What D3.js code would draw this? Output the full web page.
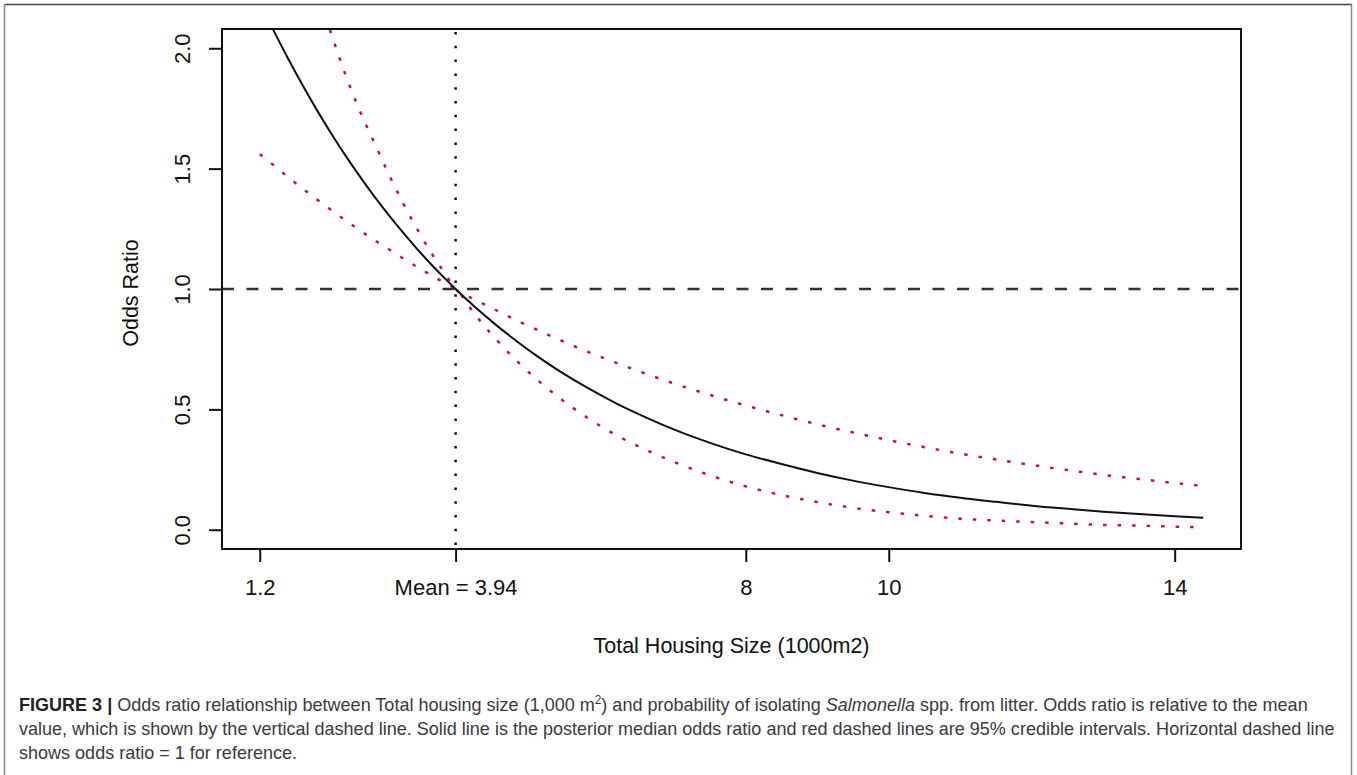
<!DOCTYPE html>
<html>
<head>
<meta charset="utf-8">
<script src="https://cdn.jsdelivr.net/npm/d3@7"></script>
<style>
    body { margin: 0; background: #fff; }
    svg text { font-family: "Liberation Sans", Arial, Helvetica, sans-serif; }
</style>
</head>
<body>
<div id="chart"></div>
<script>
const housingSize = [1.2, 1.4, 1.6, 1.8, 2.0, 2.2, 2.4, 2.6, 2.8, 3.0, 3.2, 3.4, 3.6, 3.8, 3.94,
    4.2, 4.5, 4.8, 5.1, 5.4, 5.8, 6.2, 6.6, 7.0, 7.5, 8.0, 8.5, 9.0, 9.5, 10.0,
    10.5, 11.0, 11.5, 12.0, 12.5, 13.0, 13.5, 14.0, 14.4];
// Posterior median odds ratio
const oddsMedian = [2.19, 2.07, 1.955, 1.846, 1.743, 1.646, 1.554, 1.468, 1.386, 1.309, 1.236, 1.167, 1.102, 1.041, 1.0,
    0.928, 0.852, 0.782, 0.717, 0.658, 0.587, 0.523, 0.467, 0.416, 0.361, 0.313, 0.273, 0.236, 0.204, 0.177,
    0.153, 0.133, 0.116, 0.1, 0.087, 0.075, 0.065, 0.056, 0.05];
// Upper 95% credible interval
const oddsUpper = [3.12, 2.87, 2.64, 2.43, 2.24, 2.06, 1.89, 1.74, 1.61, 1.48, 1.36, 1.25, 1.15, 1.06, 1.0,
    0.958, 0.913, 0.869, 0.828, 0.788, 0.738, 0.692, 0.648, 0.607, 0.56, 0.516, 0.476, 0.438, 0.404, 0.372,
    0.343, 0.316, 0.292, 0.269, 0.248, 0.228, 0.211, 0.194, 0.182];
// Lower 95% credible interval
const oddsLower = [1.56, 1.513, 1.464, 1.417, 1.372, 1.328, 1.285, 1.244, 1.204, 1.166, 1.128, 1.092, 1.057, 1.023, 1.0,
    0.898, 0.793, 0.7, 0.618, 0.546, 0.462, 0.391, 0.332, 0.281, 0.226, 0.18, 0.144, 0.115, 0.091, 0.073,
    0.058, 0.046, 0.038, 0.032, 0.026, 0.02, 0.017, 0.013, 0.01];

// Mean housing size and reference odds ratio
const meanSize = 3.94;
const referenceOdds = 1;

// Tick values and labels
const xTickValues = [1.2, 3.94, 8, 10, 14];
const xTickLabels = ['1.2', 'Mean = 3.94', '8', '10', '14'];
const yTickValues = [0, 0.5, 1, 1.5, 2];
const yTickLabels = ['0.0', '0.5', '1.0', '1.5', '2.0'];

// Total size of the figure
const totalWidth = 1357;
const totalHeight = 775;

// Margins round the plot box
const margin = { top: 29, right: 116, bottom: 226, left: 222 };
const graphWidth = totalWidth - margin.left - margin.right;
const graphHeight = totalHeight - margin.top - margin.bottom;

const svg = d3
    .select('#chart')
    .append('svg')
    .attr('width', totalWidth)
    .attr('height', totalHeight);

// Frame round the figure panel
svg.append('line')
    .attr('x1', 4).attr('x2', 1352).attr('y1', 4.5).attr('y2', 4.5)
    .attr('stroke', '#444').attr('stroke-width', 1.5);
svg.append('line')
    .attr('x1', 4.5).attr('x2', 4.5).attr('y1', 4).attr('y2', totalHeight)
    .attr('stroke', '#888').attr('stroke-width', 1.5);
svg.append('line')
    .attr('x1', 1351.5).attr('x2', 1351.5).attr('y1', 4).attr('y2', totalHeight)
    .attr('stroke', '#888').attr('stroke-width', 1.5);

const graph = svg
    .append('g')
    .attr('transform', `translate(${margin.left}, ${margin.top})`);

// R style 4% padding on both scales
const xPad = (d3.max(housingSize) - d3.min(housingSize)) * 0.04;
const x = d3
    .scaleLinear()
    .domain([d3.min(housingSize) - xPad, d3.max(housingSize) + xPad])
    .range([0, graphWidth]);

const y = d3
    .scaleLinear()
    .domain([0 - 0.08, 2 + 0.08])
    .range([graphHeight, 0]);

// Clip the curves to the plot box
graph.append('clipPath')
    .attr('id', 'plot-clip')
    .append('rect')
    .attr('width', graphWidth)
    .attr('height', graphHeight);

const plotArea = graph.append('g').attr('clip-path', 'url(#plot-clip)');

// Reference lines
plotArea.append('line')
    .attr('x1', 0).attr('x2', graphWidth)
    .attr('y1', y(referenceOdds)).attr('y2', y(referenceOdds))
    .attr('stroke', '#333')
    .attr('stroke-width', 2.5)
    .attr('stroke-dasharray', '12,12.5');

plotArea.append('line')
    .attr('x1', x(meanSize)).attr('x2', x(meanSize))
    .attr('y1', 0).attr('y2', graphHeight)
    .attr('stroke', '#111')
    .attr('stroke-width', 2.5)
    .attr('stroke-dasharray', '2.5,11.3')
    .attr('stroke-dashoffset', -3);

// Line generator for a series
const lineFor = (values) => d3
    .line()
    .x((d, i) => x(housingSize[i]))
    .y((d) => y(d))
    .curve(d3.curveMonotoneX)(values);

// Credible intervals (red dotted)
[oddsUpper, oddsLower].forEach((series) => {
    plotArea.append('path')
        .attr('d', lineFor(series))
        .attr('fill', 'none')
        .attr('stroke', '#c8143c')
        .attr('stroke-width', 2.5)
        .attr('stroke-dasharray', '3.5,11');
});

// Posterior median (solid black)
plotArea.append('path')
    .attr('d', lineFor(oddsMedian))
    .attr('fill', 'none')
    .attr('stroke', '#111')
    .attr('stroke-width', 2);

// Plot box
graph.append('rect')
    .attr('width', graphWidth)
    .attr('height', graphHeight)
    .attr('fill', 'none')
    .attr('stroke', '#111')
    .attr('stroke-width', 2);

// X axis
const xAxisGroup = graph
    .append('g')
    .attr('transform', `translate(0, ${graphHeight})`)
    .call(
        d3.axisBottom(x)
            .tickValues(xTickValues)
            .tickFormat((d, i) => xTickLabels[i])
            .tickSize(13)
            .tickPadding(17)
    );
xAxisGroup.select('.domain').remove();
xAxisGroup.selectAll('line').attr('stroke', '#111').attr('stroke-width', 2);
xAxisGroup.selectAll('text')
    .attr('fill', '#111')
    .style('font-size', '22px');

// Y axis with labels turned parallel to the axis
const yAxisGroup = graph
    .append('g')
    .call(
        d3.axisLeft(y)
            .tickValues(yTickValues)
            .tickFormat((d, i) => yTickLabels[i])
            .tickSize(13)
    );
yAxisGroup.select('.domain').remove();
yAxisGroup.selectAll('line').attr('stroke', '#111').attr('stroke-width', 2);
yAxisGroup.selectAll('text')
    .attr('x', null)
    .attr('dy', null)
    .attr('text-anchor', 'middle')
    .attr('transform', 'translate(-32, 0) rotate(-90)')
    .attr('fill', '#111')
    .style('font-size', '22px');

// Axis titles
graph.append('text')
    .attr('text-anchor', 'middle')
    .attr('x', graphWidth / 2)
    .attr('y', graphHeight + 104)
    .attr('fill', '#111')
    .style('font-size', '21.5px')
    .text('Total Housing Size (1000m2)');

graph.append('text')
    .attr('text-anchor', 'middle')
    .attr('transform', `translate(${-84}, ${graphHeight / 2 + 4}) rotate(-90)`)
    .attr('fill', '#111')
    .style('font-size', '21.5px')
    .text('Odds Ratio');

// Figure caption
const caption = svg.append('g').attr('fill', '#3a3a3a').style('font-size', '19px');

const line1 = caption.append('text').attr('x', 0).attr('y', 711);
line1.append('tspan').style('font-weight', 'bold').attr('fill', '#222').text('FIGURE 3 |');
line1.append('tspan').text(' Odds ratio relationship between Total housing size (1,000 m');
line1.append('tspan').attr('dy', -7).style('font-size', '12.5px').text('2');
line1.append('tspan').attr('dy', 7).text(') and probability of isolating ');
line1.append('tspan').style('font-style', 'italic').text('Salmonella');
line1.append('tspan').text(' spp. from litter. Odds ratio is relative to the mean');

caption.append('text').attr('x', 0).attr('y', 735)
    .text('value, which is shown by the vertical dashed line. Solid line is the posterior median odds ratio and red dashed lines are 95% credible intervals. Horizontal dashed line');

caption.append('text').attr('x', 0).attr('y', 759)
    .text('shows odds ratio = 1 for reference.');

// Squeeze the caption so the first line ends where it does in the figure
const line1Width = line1.node().getComputedTextLength();
const squeeze = (1308 - 19) / line1Width;
caption.attr('transform', `translate(19, 0) scale(${squeeze}, 1)`);
</script>
</body>
</html>
